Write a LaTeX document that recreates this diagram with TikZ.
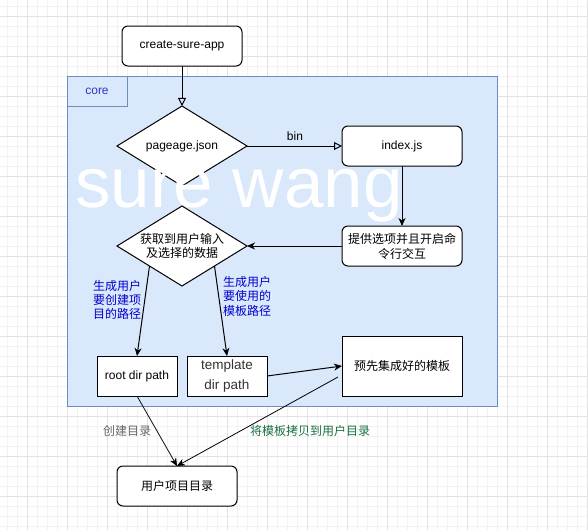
\documentclass[tikz,border=0pt]{standalone}
\usepackage{fontspec}
\setmainfont{Liberation Sans}
\newfontfamily\cjk{Noto Sans CJK SC}
\usetikzlibrary{shapes.geometric,arrows.meta,calc}
\definecolor{gridminor}{HTML}{F2F2F2}
\definecolor{gridmajor}{HTML}{E2E2E2}
\definecolor{corefill}{HTML}{DAE8FC}
\definecolor{coreline}{HTML}{6C8EBF}
\definecolor{corelabel}{HTML}{3333CC}
\definecolor{bluetxt}{HTML}{0000CC}
\definecolor{graytxt}{HTML}{666666}
\definecolor{greentxt}{HTML}{1A7040}
\definecolor{tpltxt}{HTML}{333333}
\tikzset{
  base/.style={font=\fontsize{12}{15}\selectfont, inner sep=0pt, outer sep=0pt, align=center},
  rbox/.style={base, draw=black, fill=white, line width=1pt, rounded corners=6pt, minimum width=120pt, minimum height=40pt},
  sbox/.style={base, draw=black, fill=white, line width=1pt, minimum width=80pt, minimum height=40pt},
  dia/.style={base, diamond, draw=black, fill=white, line width=1pt, minimum width=130pt, minimum height=80pt},
  openarr/.style={line width=1pt, -{Triangle[open,length=8pt,width=8pt]}},
  fillarr/.style={line width=1pt, -{Stealth[length=8pt,width=7pt,inset=2.5pt]}},
  thinarr/.style={line width=0.8pt, -{Stealth[length=8pt,width=7pt,inset=2.5pt]}},
  lbl/.style={base, inner sep=1pt}
}
\begin{document}
\begin{tikzpicture}[x=1pt,y=-1pt]
\useasboundingbox (0,0) rectangle (588,530);
\fill[white] (0,0) rectangle (588,530);
% grid
\foreach \x in {7,17,...,587} \draw[gridminor, line width=0.8pt] (\x,0) -- (\x,530);
\foreach \y in {6,16,...,526} \draw[gridminor, line width=0.8pt] (0,\y) -- (588,\y);
\foreach \x in {27,67,...,587} \draw[gridmajor, line width=0.8pt] (\x,0) -- (\x,530);
\foreach \y in {16,56,...,526} \draw[gridmajor, line width=0.8pt] (0,\y) -- (588,\y);
% core container
\node[base, draw=coreline, fill=corefill, line width=1pt, minimum width=430pt, minimum height=330pt] (core) at (282,241) {};
\node[base, draw=coreline, fill=corefill, line width=1pt, minimum width=60pt, minimum height=30pt, text=corelabel] (corelbl) at (97,91) {core};
% nodes
\node[rbox] (start) at (182,46) {create-sure-app};
\node[dia] (d1) at (182,146) {};
\node[base] (d1t) at (d1) {pageage.json};
\node[rbox] (idx) at (402,146) {index.js};
\node[rbox] (cli) at (402,246) {\cjk 提供选项并且开启命\\\cjk 令行交互};
\node[dia] (d2) at (182,246) {};
% watermark
\node[base, anchor=base, text=white, font=\fontsize{71}{71}\selectfont] (wm) at (239,207) {sure wang};
\node[base, font=\fontsize{12}{14.5}\selectfont] (d2t) at (182,246) {\cjk 获取到用户输入\\\cjk 及选择的数据};
\node[sbox] (root) at (137,376) {root dir path};
\node[sbox, text=tpltxt, font=\fontsize{13.5}{20}\selectfont] (tpl) at (227,376) {template\\dir path};
\node[sbox, minimum width=120pt, minimum height=60pt] (preset) at (402,366) {\cjk 预先集成好的模板};
\node[rbox] (user) at (177,486) {\cjk 用户项目目录};
% labels
\node[lbl, align=left, text=bluetxt, font=\fontsize{12}{14}\selectfont\cjk] (l1) at (117,300) {生成用户\\要创建项\\目的路径};
\node[lbl, align=left, text=bluetxt, font=\fontsize{12}{14.5}\selectfont\cjk] (l2) at (247,296) {生成用户\\要使用的\\模板路径};
\node[lbl] (lbin) at (295,136) {bin};
\node[lbl, text=graytxt, font=\fontsize{12}{14}\selectfont\cjk] (l3) at (127,431) {创建目录};
\node[lbl, text=greentxt, font=\fontsize{12}{14}\selectfont\cjk] (l4) at (310,431) {将模板拷贝到用户目录};
% connectors
\draw[openarr] (start) -- (d1);
\draw[openarr] (d1.east) -- (idx.west);
\draw[fillarr] (idx) -- (cli);
\draw[fillarr] (cli.west) -- (d2.east);
\coordinate (d2sw) at ($(d2.south)!0.5!(d2.west)$);
\coordinate (d2se) at ($(d2.south)!0.5!(d2.east)$);
\draw[fillarr] (d2sw) -- (root.north);
\draw[fillarr] (d2se) -- (tpl.north);
\draw[fillarr] (tpl.east) -- (preset.west);
\coordinate (pout) at ($(preset.west)+(-4,11)$);
\draw[thinarr] (pout) -- (user.north);
\draw[thinarr] (root.south) -- (user.north);
\end{tikzpicture}
\end{document}
